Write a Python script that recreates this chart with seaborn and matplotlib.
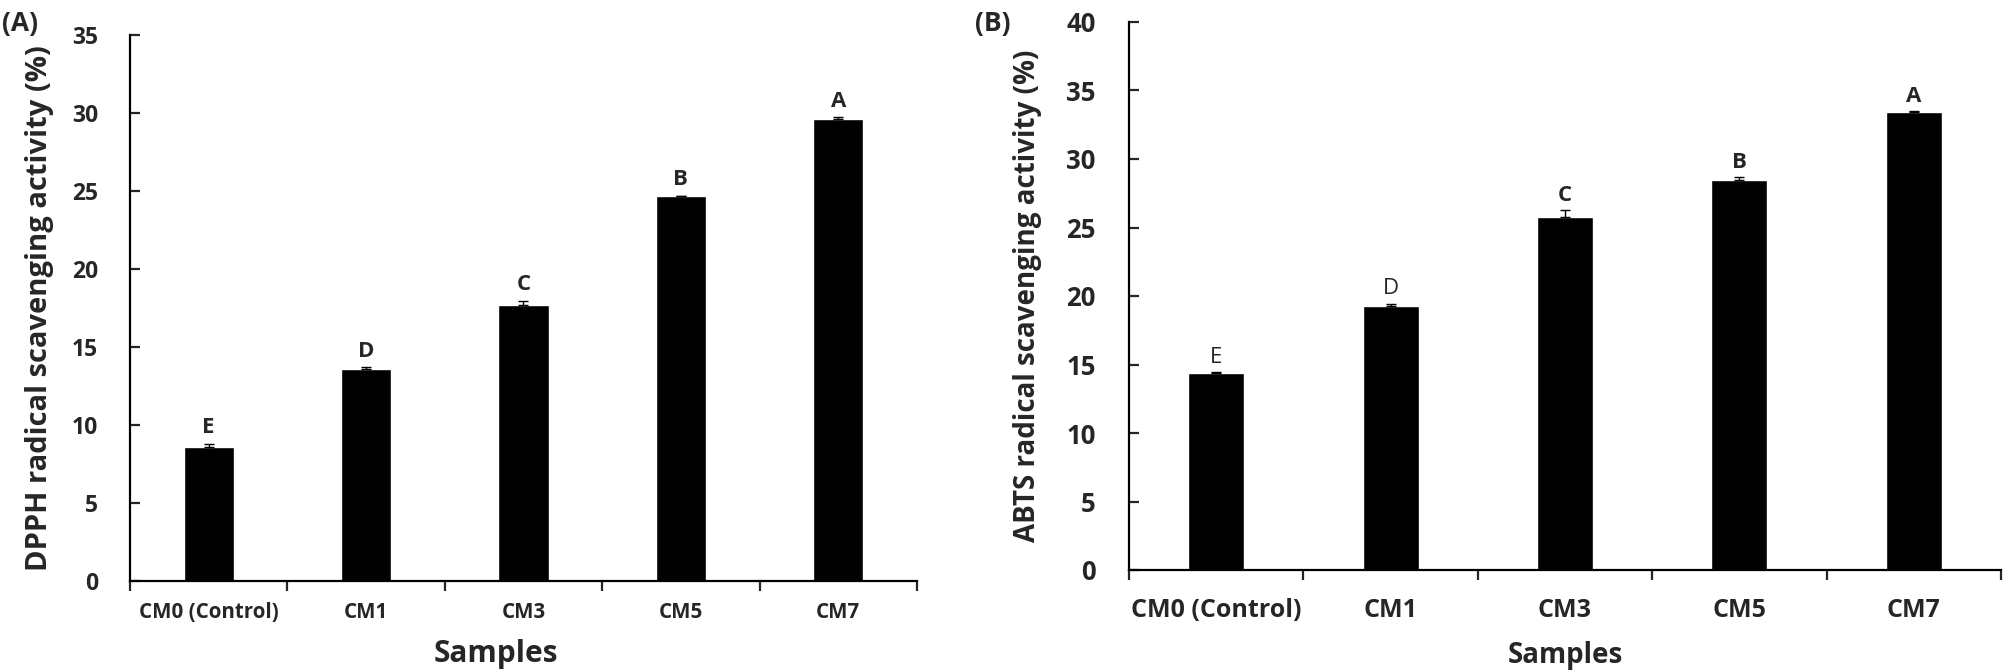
import matplotlib
matplotlib.use('Agg')
import matplotlib.pyplot as plt
import seaborn as sns
import pandas as pd

sns.set_style('white')
plt.rcParams['font.family'] = ['Open Sans', 'DejaVu Sans']

# 数据
samples = ['CM0 (Control)', 'CM1', 'CM3', 'CM5', 'CM7']
dpph_mean = [8.6, 13.6, 17.7, 24.65, 29.6]
dpph_err = [0.2, 0.1, 0.25, 0.05, 0.12]
dpph_letters = ['E', 'D', 'C', 'B', 'A']
abts_mean = [14.4, 19.25, 25.75, 28.5, 33.4]
abts_err = [0.06, 0.2, 0.5, 0.2, 0.1]
abts_letters = ['E', 'D', 'C', 'B', 'A']
abts_letter_weight = ['normal', 'normal', 'bold', 'bold', 'bold']

W, H = 2008, 672
fig = plt.figure(figsize=(W / 100, H / 100), dpi=100)


def draw_panel(ax, means, errs, letters, weights, ylim, ylabel, ytick_fs, xtick_fs,
               lab_fs, xlab_fs, letter_fs, ypad, xpad, letter_off):
    df = pd.DataFrame({'Samples': samples, 'value': means})
    sns.barplot(data=df, x='Samples', y='value', color='black', width=0.32,
                saturation=1, ax=ax, errorbar=None)
    ax.errorbar(range(len(samples)), means, yerr=[[0] * len(errs), errs], fmt='none',
                ecolor='black', elinewidth=1, capsize=3.5, capthick=1)
    for i, (m, e, t) in enumerate(zip(means, errs, letters)):
        ax.annotate(t, (i, m + e), xytext=(0, letter_off), textcoords='offset points',
                    ha='center', va='bottom', fontsize=letter_fs, fontweight=weights[i])
    ax.set_ylim(*ylim)
    ax.set_xlim(-0.5, len(samples) - 0.5)
    ax.set_yticks(range(0, ylim[1] + 1, 5))
    sns.despine(ax=ax)
    for s in ['left', 'bottom']:
        ax.spines[s].set_linewidth(1.6)
        ax.spines[s].set_color('black')
    ax.tick_params(axis='y', direction='in', length=7, width=1.6, pad=ypad,
                   labelsize=ytick_fs, left=True)
    ax.tick_params(axis='x', which='major', length=0, pad=xpad, labelsize=xtick_fs)
    ax.set_xticks([x + 0.5 for x in range(-1, len(samples))], minor=True)
    ax.tick_params(axis='x', which='minor', direction='out', length=7, width=1.6, bottom=True)
    for lab in ax.get_xticklabels() + ax.get_yticklabels():
        lab.set_fontweight('bold')
    ax.set_ylabel(ylabel, fontsize=lab_fs, fontweight='bold', va='baseline')
    ax.set_xlabel('Samples', fontsize=xlab_fs, fontweight='bold', va='baseline')


# 子图A：DPPH
ax1 = fig.add_axes([130 / W, 1 - 581 / H, 787 / W, 546 / H])
draw_panel(ax1, dpph_mean, dpph_err, dpph_letters, ['bold'] * 5, (0, 35),
           'DPPH radical scavenging activity (%)', 16.5, 14.8, 21, 21.5, 16, 23, 15, 4)
ax1.yaxis.set_label_coords(-83 / 787, 0.5)
ax1.xaxis.set_label_coords((496 - 130) / 787, -81 / 546)

# 子图B：ABTS
ax2 = fig.add_axes([1129 / W, 1 - 570 / H, 872 / W, 548 / H])
draw_panel(ax2, abts_mean, abts_err, abts_letters, abts_letter_weight, (0, 40),
           'ABTS radical scavenging activity (%)', 18.5, 18, 20, 20, 16, 24, 20, 3)
ax2.yaxis.set_label_coords(-94 / 872, 0.5)
ax2.xaxis.set_label_coords(0.5, -93 / 548)

fig.text(2 / W, 1 - 10 / H, '(A)', fontsize=19, fontweight='bold', va='top', ha='left')
fig.text(975 / W, 1 - 10 / H, '(B)', fontsize=19, fontweight='bold', va='top', ha='left')

plt.savefig('out.png', dpi=100)
